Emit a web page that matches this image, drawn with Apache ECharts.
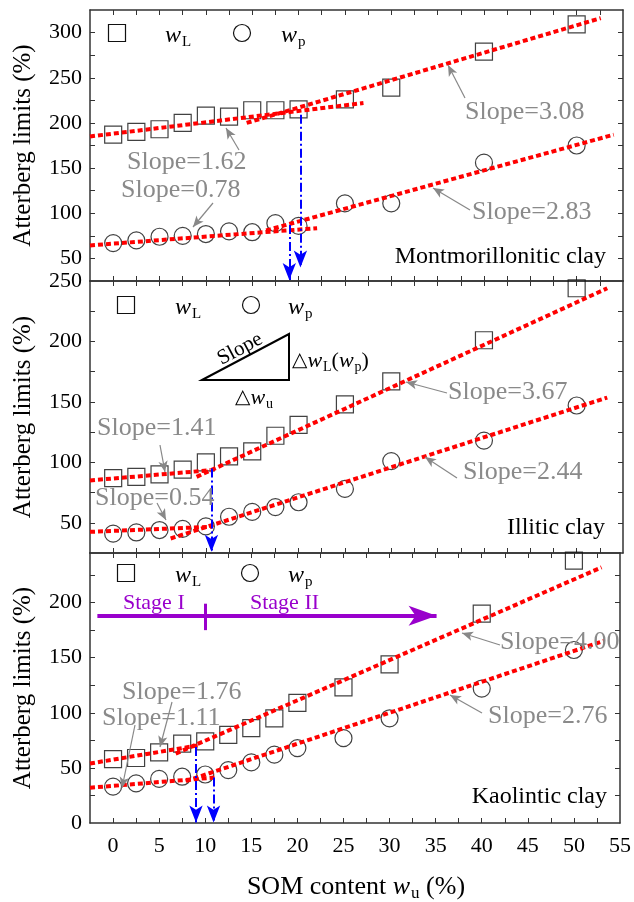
<!DOCTYPE html>
<html>
<head>
<meta charset="utf-8">
<script src="https://cdn.jsdelivr.net/npm/echarts@6.0.0/dist/echarts.min.js"></script>
<style>
  html, body { margin: 0; padding: 0; background: #fff; }
  #chart { width: 634px; height: 902px; }
</style>
</head>
<body>
<div id="chart"></div>
<script>
// SOM content (x) for every sample
const somContent = [0, 2.5, 5, 7.5, 10, 12.5, 15, 17.5, 20, 25, 30, 40, 50];

// Montmorillonitic clay
const montLiquid = [187, 190, 193, 200, 208, 207, 214, 214, 215, 226, 239, 279, 309];
const montPlastic = [67, 70, 74, 75, 77, 80, 79, 89, 86, 111, 111, 156, 175];
// Illitic clay
const illLiquid = [87, 88, 90, 94, 100, 105, 109, 122, 131, 148, 167, 201, 244];
const illPlastic = [41, 42, 44, 45, 47, 55, 59, 63, 67, 78, 101, 118, 147];
// Kaolinitic clay
const kaoLiquid = [58, 59, 64, 72, 74, 80, 86, 95, 109, 123, 144, 190, 238];
const kaoPlastic = [33, 36, 40, 42, 44, 48, 55, 62, 68, 77, 95, 122, 157];

// fitted lines (stage I / stage II), end points
const montFitL1 = [[-2.5, 185], [27, 222]];
const montFitL2 = [[14.4, 200], [52.6, 316]];
const montFitP1 = [[-2.5, 64.4], [22, 83.5]];
const montFitP2 = [[16.5, 81], [54, 187]];
const illFitL1 = [[-2.5, 85], [10.5, 93.5]];
const illFitL2 = [[9, 88], [53.3, 244]];
const illFitP1 = [[-2.5, 42.5], [10.7, 46.7]];
const illFitP2 = [[6.2, 37], [53.3, 153.6]];
const kaoFitL1 = [[-2.5, 54], [9.3, 70.5]];
const kaoFitL2 = [[6.8, 63], [53, 232]];
const kaoFitP1 = [[-2.5, 32], [11.1, 41.3]];
const kaoFitP2 = [[7.9, 38], [53.3, 165.4]];

// transition arrows (x, from, to)
const montArrows = [[20.2, 209, 40], [19.0, 87, 26]];
const illArrows = [[10.6, 95, 26]];
const kaoArrows = [[9.0, 69, 0.5], [10.9, 41.3, 0.5]];

// axis ticks
const xLabels = [0, 5, 10, 15, 20, 25, 30, 35, 40, 45, 50, 55];
const xTicks = [0, 2.5, 5, 7.5, 10, 12.5, 15, 17.5, 20, 22.5, 25, 27.5, 30, 32.5, 35, 37.5, 40, 42.5, 45, 47.5, 50, 52.5];
const montYLabels = [50, 100, 150, 200, 250, 300];
const montYTicks = [50, 75, 100, 125, 150, 175, 200, 225, 250, 275, 300];
const illYLabels = [50, 100, 150, 200, 250];
const illYTicks = [50, 75, 100, 125, 150, 175, 200, 225];
const kaoYLabels = [0, 50, 100, 150, 200];
const kaoYTicks = [25, 50, 75, 100, 125, 150, 175, 200, 225];

const serif = "'Liberation Serif', 'Times New Roman', serif";
const axisColor = '#333';

const chart = echarts.init(document.getElementById('chart'));

const grids = [
  { left: 90, right: 11, top: 10, height: 271 },
  { left: 90, right: 11, top: 281, height: 272 },
  { left: 90, right: 11, top: 553, height: 270 }
];

const panels = [
  { yMin: 25, yMax: 325, yLabels: montYLabels, yTicks: montYTicks },
  { yMin: 25, yMax: 250, yLabels: illYLabels, yTicks: illYTicks },
  { yMin: 0, yMax: 245, yLabels: kaoYLabels, yTicks: kaoYTicks }
];

const xAxes = [];
const yAxes = [];
panels.forEach((p, i) => {
  ['bottom', 'top'].forEach(pos => {
    xAxes.push({
      type: 'value', gridIndex: i, position: pos, min: -2.5, max: 55,
      axisLine: { show: true, onZero: false, lineStyle: { color: axisColor, width: 1.5 } },
      axisTick: { show: true, inside: true, length: 5, customValues: xTicks, lineStyle: { color: axisColor } },
      axisLabel: {
        show: pos === 'bottom' && i === 2, customValues: xLabels, margin: 12,
        color: '#000', fontFamily: serif, fontSize: 22
      },
      splitLine: { show: false }
    });
  });
  ['left', 'right'].forEach(pos => {
    yAxes.push({
      type: 'value', gridIndex: i, position: pos, min: p.yMin, max: p.yMax,
      name: pos === 'left' ? 'Atterberg limits (%)' : '',
      nameLocation: 'middle', nameGap: 54,
      nameTextStyle: { color: '#000', fontFamily: serif, fontSize: 25 },
      axisLine: { show: true, onZero: false, lineStyle: { color: axisColor, width: 1.5 } },
      axisTick: { show: true, inside: true, length: 5, customValues: p.yTicks, lineStyle: { color: axisColor } },
      axisLabel: {
        show: pos === 'left', customValues: p.yLabels, margin: 8,
        color: '#000', fontFamily: serif, fontSize: 22
      },
      splitLine: { show: false }
    });
  });
});

function pairs(ys) {
  return somContent.map((x, k) => [x, ys[k]]);
}

function scatter(i, ys, symbol, extra) {
  return Object.assign({
    type: 'scatter', xAxisIndex: i * 2, yAxisIndex: i * 2,
    data: pairs(ys), symbol: symbol, symbolSize: 17, z: 3,
    itemStyle: { color: 'rgba(0,0,0,0)', borderColor: '#111', borderWidth: 1.2 }
  }, extra || {});
}

function fit(i, pts) {
  return {
    type: 'line', xAxisIndex: i * 2, yAxisIndex: i * 2, data: pts,
    showSymbol: false, symbol: 'none', z: 4,
    lineStyle: { color: '#ff0000', width: 4, type: [5, 3] }
  };
}

function blueArrows(list) {
  return {
    silent: true, symbol: ['none', 'arrow'], symbolSize: [10, 17],
    label: { show: false },
    lineStyle: { color: '#0000ff', width: 2, type: [9, 3, 2, 3] },
    data: list.map(a => [{ coord: [a[0], a[1]] }, { coord: [a[0], a[2]] }])
  };
}

// gray pointers from the slope labels (pixel positions)
function grayArrows(list) {
  return {
    silent: true, symbol: ['none', 'arrow'], symbolSize: [7, 11],
    label: { show: false },
    lineStyle: { color: '#888', width: 1.2, type: 'solid' },
    data: list.map(a => [{ x: a[0], y: a[1] }, { x: a[2], y: a[3] }])
  };
}

const series = [
  scatter(0, montLiquid, 'rect', { markLine: blueArrows(montArrows) }),
  scatter(0, montPlastic, 'circle', { markLine: grayArrows([
    [239, 150, 226, 128], [213, 203, 193, 227], [465, 98, 448, 65], [470, 210, 433, 188]
  ]) }),
  fit(0, montFitL1), fit(0, montFitL2), fit(0, montFitP1), fit(0, montFitP2),
  scatter(1, illLiquid, 'rect', { markLine: blueArrows(illArrows) }),
  scatter(1, illPlastic, 'circle', { markLine: grayArrows([
    [160, 445, 165, 472], [157, 503, 166, 520], [447, 393, 406, 382], [457, 478, 425, 457]
  ]) }),
  fit(1, illFitL1), fit(1, illFitL2), fit(1, illFitP1), fit(1, illFitP2),
  scatter(2, kaoLiquid, 'rect', { markLine: blueArrows(kaoArrows) }),
  scatter(2, kaoPlastic, 'circle', { markLine: grayArrows([
    [172, 702, 160, 747], [135, 725, 122, 788], [500, 645, 462, 633], [482, 713, 450, 695]
  ]) }),
  fit(2, kaoFitL1), fit(2, kaoFitL2), fit(2, kaoFitP1), fit(2, kaoFitP2),
  {
    // stage arrow
    type: 'line', xAxisIndex: 4, yAxisIndex: 4, data: [],
    markLine: {
      silent: true, label: { show: false },
      data: [
        [{ coord: [-1.7, 188], symbol: 'none' },
         { coord: [35.1, 188], symbol: 'arrow', symbolSize: [15, 28] }],
        [{ coord: [10, 175], symbol: 'none', lineStyle: { width: 3 } },
         { coord: [10, 199], symbol: 'none' }]
      ],
      lineStyle: { color: '#9900cc', width: 4, type: 'solid' }
    }
  }
];

// rich-text helper: main text, italic w and subscripts
function richStyle(size, fill) {
  const sub = Math.round(size * 0.64);
  return {
    n: { fontFamily: serif, fontSize: size, color: fill },
    i: { fontFamily: serif, fontSize: size, fontStyle: 'italic', color: fill },
    s: { fontFamily: serif, fontSize: sub, color: fill, padding: [Math.round(size * 0.55), 0, 0, 1] },
    d: { fontFamily: 'DejaVu Sans', fontSize: Math.round(size * 0.9), color: fill }
  };
}

const txt = (text, x, y, opt, size, fill) => ({
  type: 'text', silent: true, z: 100,
  style: Object.assign({
    text: text, x: x, y: y, fill: fill || '#000',
    font: (size || 24) + 'px ' + serif, align: 'left', verticalAlign: 'middle',
    rich: richStyle(size || 24, fill || '#000')
  }, opt || {})
});

const grayFill = '#8a8a8a';

function legend(sqX, wlX, ciX, wpX, y) {
  return [
    { type: 'rect', silent: true, z: 100, shape: { x: sqX - 8.5, y: y - 8.5, width: 17, height: 17 },
      style: { fill: 'none', stroke: '#111', lineWidth: 1.2 } },
    txt('{i|w}{s|L}', wlX, y + 3, null, 24),
    { type: 'circle', silent: true, z: 100, shape: { cx: ciX, cy: y, r: 8.5 },
      style: { fill: 'none', stroke: '#111', lineWidth: 1.2 } },
    txt('{i|w}{s|p}', wpX, y + 3, null, 24)
  ];
}

const graphics = [].concat(
  legend(117, 165, 242, 281, 33),
  legend(126, 175, 251, 288, 305),
  legend(126, 175, 250, 288, 573),
  [
    txt('{n|Montmorillonitic clay}', 606, 257, { align: 'right' }, 24),
    txt('{n|Illitic clay}', 605, 528, { align: 'right' }, 24),
    txt('{n|Kaolintic clay}', 607, 797, { align: 'right' }, 24),

    txt('{n|Slope=1.62}', 127, 162, null, 26, grayFill),
    txt('{n|Slope=0.78}', 121, 190, null, 26, grayFill),
    txt('{n|Slope=3.08}', 465, 112, null, 26, grayFill),
    txt('{n|Slope=2.83}', 472, 212, null, 26, grayFill),
    txt('{n|Slope=1.41}', 97, 428, null, 26, grayFill),
    txt('{n|Slope=0.54}', 95, 498, null, 26, grayFill),
    txt('{n|Slope=3.67}', 448, 392, null, 26, grayFill),
    txt('{n|Slope=2.44}', 463, 472, null, 26, grayFill),
    txt('{n|Slope=1.76}', 122, 692, null, 26, grayFill),
    txt('{n|Slope=1.11}', 102, 718, null, 26, grayFill),
    txt('{n|Slope=4.00}', 500, 642, null, 26, grayFill),
    txt('{n|Slope=2.76}', 488, 716, null, 26, grayFill),

    // slope triangle sketch
    { type: 'polygon', silent: true, z: 100,
      shape: { points: [[202, 380], [289, 334], [289, 380]] },
      style: { fill: 'none', stroke: '#000', lineWidth: 2 } },
    { type: 'text', silent: true, z: 100, x: 240, y: 349, rotation: 0.49,
      style: { text: 'Slope', fill: '#000', font: '21px ' + serif, align: 'center', verticalAlign: 'middle' } },
    txt('{d|\u25B3}{i|w}{s|L}{n|(}{i|w}{s|p}{n|)}', 292, 361, null, 22),
    txt('{d|\u25B3}{i|w}{s|u}', 235, 398, null, 22),

    // stage labels
    txt('{n|Stage I}', 123, 603, null, 22, '#9900cc'),
    txt('{n|Stage II}', 250, 603, null, 22, '#9900cc'),

    // x axis title
    txt('{n|SOM content }{i|w}{s|u}{n| (%)}', 356, 887, { align: 'center' }, 26)
  ]
);

chart.setOption({
  animation: false,
  backgroundColor: '#fff',
  grid: grids,
  xAxis: xAxes,
  yAxis: yAxes,
  series: series,
  graphic: graphics
});
</script>
</body>
</html>
